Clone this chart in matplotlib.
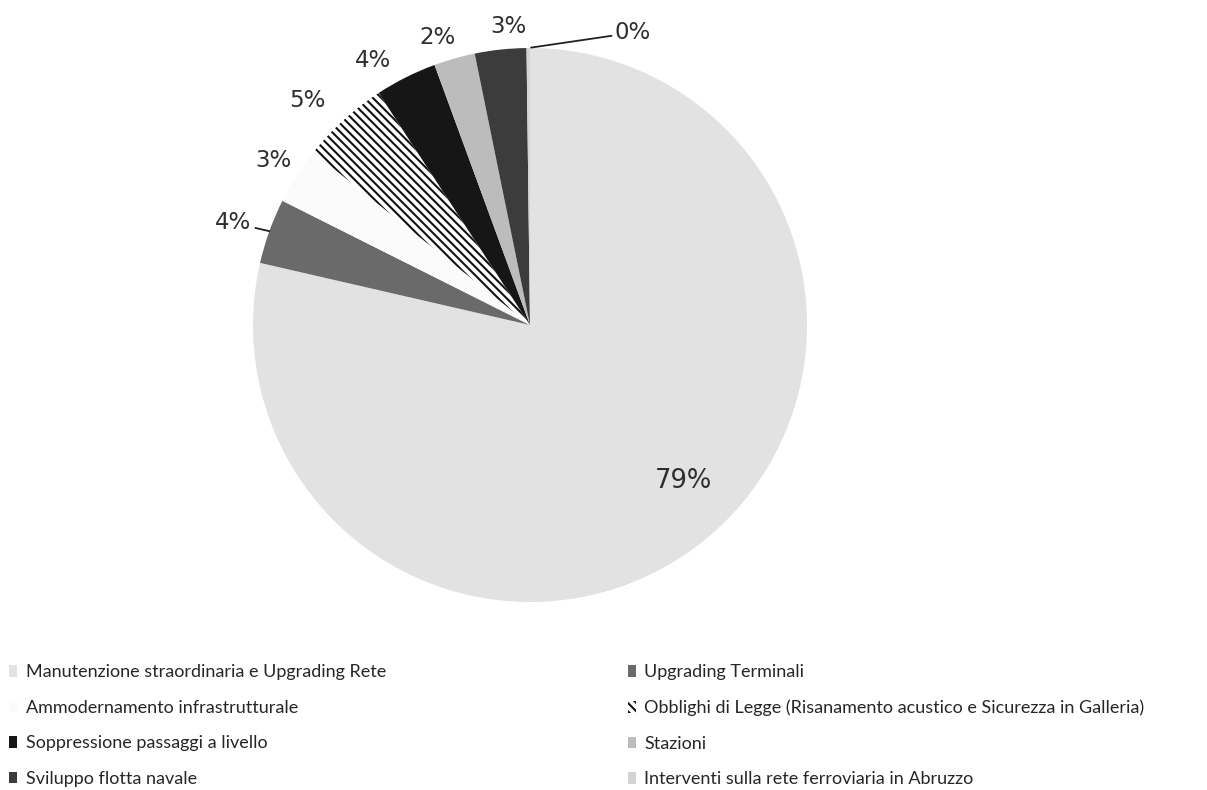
import numpy as np
import matplotlib.pyplot as plt
from matplotlib.patches import Patch

plt.rcParams['hatch.linewidth'] = 1.5

# ---------- dati ----------
voci = [
    'Manutenzione straordinaria e Upgrading Rete',
    'Upgrading Terminali',
    'Ammodernamento infrastrutturale',
    'Obblighi di Legge (Risanamento acustico e Sicurezza in Galleria)',
    'Soppressione passaggi a livello',
    'Stazioni',
    'Sviluppo flotta navale',
    'Interventi sulla rete ferroviaria in Abruzzo',
]
quote = [78.6, 3.8, 3.3, 5.1, 3.6, 2.4, 3.0, 0.2]   # %
etichette = ['79%', '4%', '3%', '5%', '4%', '2%', '3%', '0%']

colori = ['#e2e2e2', '#6a6a6a', '#fbfbfb', '#ffffff',
          '#161616', '#bcbcbc', '#3c3c3c', '#d4d4d4']
tratteggi = [None, None, None, '\\\\\\\\', None, None, None, None]

# ---------- figura ----------
W, H = 1207, 790
fig = plt.figure(figsize=(W / 100, H / 100), dpi=100)
cx, cy, R = 530, 325, 277
ax = fig.add_axes([(cx - R) / W, (H - cy - R) / H, 2 * R / W, 2 * R / H])

wedges, _ = ax.pie(quote, colors=colori, startangle=90, counterclock=False,
                   wedgeprops=dict(linewidth=0, edgecolor='black'))
for w, h in zip(wedges, tratteggi):
    if h:
        w.set_hatch(h)
        w.set_edgecolor('#111111')
        w.set_linewidth(0)
ax.set_xlim(-1, 1)
ax.set_ylim(-1, 1)
ax.set_aspect('equal')
ax.axis('off')

# ---------- etichette percentuali ----------
dist = [0.79, 1.17, 1.1, 1.14, 1.11, 1.09, 1.08, 1.0]
sposta = [6, 0, 0, 2.5, 4, 2, -2, 0]      # gradi
for i, (w, lab) in enumerate(zip(wedges, etichette)):
    ang = np.deg2rad((w.theta1 + w.theta2) / 2 + sposta[i])
    x, y = dist[i] * np.cos(ang), dist[i] * np.sin(ang)
    kw = dict(fontsize=16.5, color='#2e2e2e', family='DejaVu Sans',
              ha='center', va='center')
    if i == 0:
        ax.text(x, y, lab, **dict(kw, fontsize=18.5))
    elif i == len(wedges) - 1:
        ax.annotate(lab, xy=(np.cos(ang), np.sin(ang)), xytext=(62, 11),
                    textcoords='offset points', ha='left', va='center',
                    fontsize=16.5, color='#2e2e2e',
                    arrowprops=dict(arrowstyle='-', color='#222222', lw=1.3,
                                    shrinkA=0, shrinkB=2))
    elif i == 1:
        ax.annotate(lab, xy=(np.cos(ang), np.sin(ang)), xytext=(-13, 6),
                    textcoords='offset points', ha='right', va='center',
                    fontsize=16.5, color='#2e2e2e',
                    arrowprops=dict(arrowstyle='-', color='#222222', lw=1.3,
                                    shrinkA=1, shrinkB=0))
    else:
        ax.text(x, y, lab, **kw)

# ---------- legenda su due colonne ----------
handles = [Patch(facecolor=c, hatch=h, edgecolor='#111111' if h else c, linewidth=0)
           for c, h in zip(colori, tratteggi)]
legkw = dict(frameon=False, handlelength=0.45, handleheight=0.6,
             handletextpad=0.45, labelspacing=1.08, labelcolor='#262626',
             prop={'family': 'Lato', 'size': 13})
l1 = fig.legend(handles[0::2], voci[0::2], loc='upper left',
                bbox_to_anchor=(-7 / W, 1 - 648 / H), **legkw)
l2 = fig.legend(handles[1::2], voci[1::2], loc='upper left',
                bbox_to_anchor=(612 / W, 1 - 648 / H), **legkw)

fig.savefig('out.png', dpi=100, facecolor='white')
